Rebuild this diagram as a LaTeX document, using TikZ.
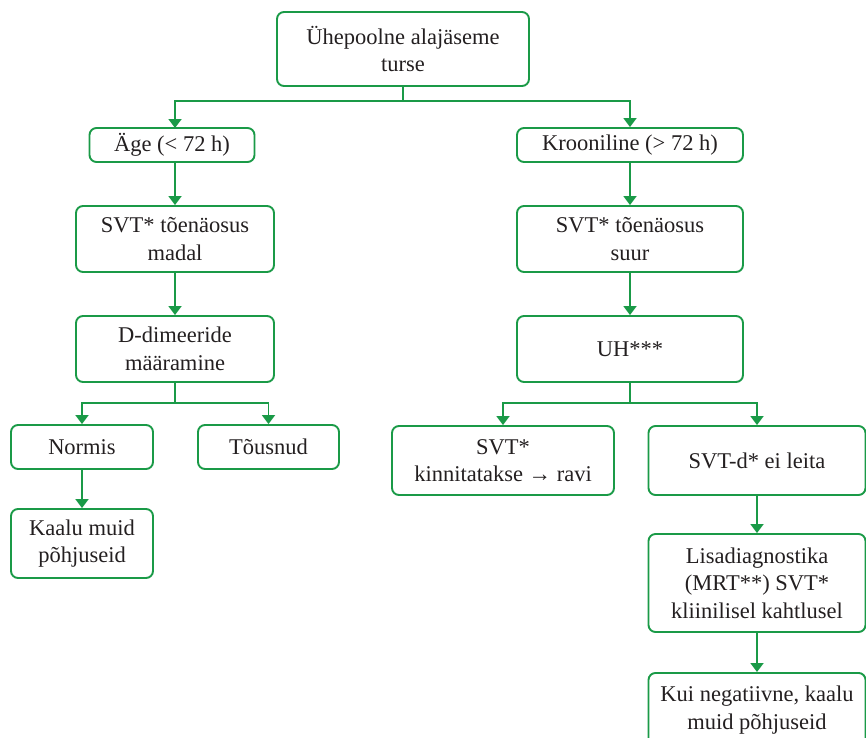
\documentclass[tikz,border=0pt]{standalone}
\usepackage{fontspec}
\setmainfont{Liberation Serif}
\usetikzlibrary{arrows.meta}
\definecolor{boxgreen}{HTML}{1A9A47}
\definecolor{txt}{HTML}{231F20}
\tikzset{
  box/.style={draw=boxgreen, line width=1.9pt, rounded corners=7pt, align=center,
    text=txt, font=\fontsize{22.5}{27.5}\selectfont, inner sep=0pt},
  conn/.style={draw=boxgreen, line width=1.9pt},
  arr/.style={conn, -{Triangle[width=13pt,length=9pt]}}
}
\begin{document}
\begin{tikzpicture}[x=1pt,y=-1pt]
\useasboundingbox (0,0) rectangle (866,737);
\node[box, minimum width=252pt, minimum height=74pt] (top) at (403,49) {Ühepoolne alajäseme\\turse};
\node[box, minimum width=165pt, minimum height=34pt] (age) at (172,145) {Äge (< 72 h)};
\node[box, minimum width=226pt, minimum height=34pt] (kroon) at (630,145) {Krooniline (> 72 h)};
\node[box, minimum width=198pt, minimum height=66pt] (svta) at (175,239) {SVT* tõenäosus\\madal};
\node[box, minimum width=226pt, minimum height=66pt] (svtb) at (630,239) {SVT* tõenäosus\\suur};
\node[box, minimum width=198pt, minimum height=66pt] (ddim) at (175,349) {D-dimeeride\\määramine};
\node[box, minimum width=226pt, minimum height=66pt] (uh) at (630,349) {UH***};
\node[box, minimum width=142pt, minimum height=44pt] (normis) at (82,447) {Normis};
\node[box, minimum width=141pt, minimum height=44pt] (tous) at (268.5,447) {Tõusnud};
\node[box, minimum width=142pt, minimum height=69pt] (kaalu) at (82,543.5) {Kaalu muid\\põhjuseid};
\node[box, minimum width=222pt, minimum height=69pt] (kinn) at (503,460.5) {SVT*\\kinnitatakse → ravi};
\node[box, minimum width=217pt, minimum height=69pt] (leita) at (757,460.5) {SVT-d* ei leita};
\node[box, minimum width=217pt, minimum height=98pt] (lisa) at (757,583) {Lisadiagnostika\\(MRT**) SVT*\\kliinilisel kahtlusel};
\node[box, minimum width=217pt, minimum height=74pt, anchor=north] (kui) at (757,672) {Kui negatiivne, kaalu\\muid põhjuseid};
\coordinate (s1) at (403,101);
\coordinate (s2) at (175,403);
\coordinate (s3) at (630,403);
\draw[conn] (top.south) -- (s1);
\draw[arr] (s1) -| (175,128);
\draw[arr] (s1) -| (kroon.north);
\draw[arr] (175,162) -- (svta.north);
\draw[arr] (kroon.south) -- (svtb.north);
\draw[arr] (svta.south) -- (ddim.north);
\draw[arr] (svtb.south) -- (uh.north);
\draw[conn] (ddim.south) -- (s2);
\draw[arr] (s2) -| (normis.north);
\draw[arr] (s2) -| (tous.north);
\draw[arr] (normis.south) -- (kaalu.north);
\draw[conn] (uh.south) -- (s3);
\draw[arr] (s3) -| (kinn.north);
\draw[arr] (s3) -| (leita.north);
\draw[arr] (leita.south) -- (lisa.north);
\draw[arr] (lisa.south) -- (kui.north);
\end{tikzpicture}
\end{document}
